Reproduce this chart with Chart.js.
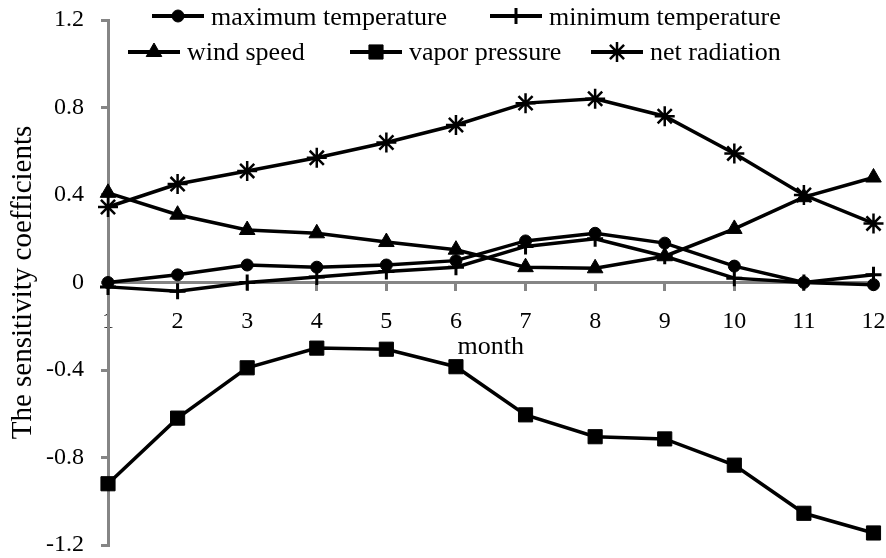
<!DOCTYPE html>
<html>
<head>
<meta charset="utf-8">
<script src="https://cdn.jsdelivr.net/npm/chart.js@4.4.1/dist/chart.umd.min.js"></script>
<style>
  html, body { margin: 0; padding: 0; background: #fff; }
</style>
</head>
<body>
<canvas id="chart" width="886" height="558"></canvas>
<script>
// valores
const months = ["1", "2", "3", "4", "5", "6", "7", "8", "9", "10", "11", "12"];
const maxTemp = [0, 0.035, 0.08, 0.07, 0.08, 0.10, 0.19, 0.225, 0.18, 0.075, 0, -0.01];
const minTemp = [-0.02, -0.04, 0, 0.025, 0.05, 0.07, 0.165, 0.20, 0.12, 0.02, 0, 0.035];
const windSpeed = [0.41, 0.31, 0.24, 0.225, 0.185, 0.15, 0.07, 0.065, 0.12, 0.245, 0.39, 0.48];
const vaporPressure = [-0.92, -0.62, -0.39, -0.30, -0.305, -0.385, -0.605, -0.705, -0.715, -0.835, -1.055, -1.145];
const netRadiation = [0.345, 0.45, 0.51, 0.57, 0.64, 0.72, 0.82, 0.84, 0.76, 0.59, 0.40, 0.27];
const yTicks = [-1.2, -0.8, -0.4, 0, 0.4, 0.8, 1.2];
const xTitle = "month";
const yTitle = "The sensitivity coefficients";

const FONT = "'Liberation Serif', 'Times New Roman', serif";
const AXIS = "#858585";

function series(label, data, pointStyle, radius, pointBorder) {
  return {
    label,
    data,
    borderColor: "#000",
    backgroundColor: "#000",
    borderWidth: 3.5,
    tension: 0,
    clip: false,
    pointStyle,
    pointRadius: radius,
    pointBorderWidth: pointBorder,
    pointBackgroundColor: "#000",
    pointBorderColor: "#000",
  };
}

// legenda em duas linhas, desenhada à mão
const legendSlots = [
  { x: 152, y: 16, ty: 18 },
  { x: 490, y: 16, ty: 18 },
  { x: 128, y: 52, ty: 53 },
  { x: 350, y: 52, ty: 53 },
  { x: 591, y: 52, ty: 53 },
];

const legendPlugin = {
  id: "customLegend",
  afterDraw(chart) {
    const ctx = chart.ctx;
    ctx.save();
    chart.data.datasets.forEach((ds, i) => {
      const s = legendSlots[i];
      ctx.strokeStyle = "#000";
      ctx.fillStyle = "#000";
      ctx.lineWidth = 4;
      ctx.beginPath();
      ctx.moveTo(s.x, s.y);
      ctx.lineTo(s.x + 52, s.y);
      ctx.stroke();
      ctx.lineWidth = ds.pointBorderWidth;
      Chart.helpers.drawPoint(ctx, {
        pointStyle: ds.pointStyle,
        radius: ds.pointRadius,
        borderWidth: ds.pointBorderWidth,
        rotation: 0,
      }, s.x + 26, s.y);
      ctx.font = "26px " + FONT;
      ctx.textAlign = "left";
      ctx.textBaseline = "middle";
      ctx.fillText(ds.label, s.x + 59, s.ty);
    });
    // título do eixo x
    const area = chart.chartArea;
    ctx.font = "26px " + FONT;
    ctx.textAlign = "center";
    ctx.textBaseline = "middle";
    ctx.fillText(xTitle, (area.left + area.right) / 2, 347);
    ctx.restore();
  },
};

new Chart(document.getElementById("chart"), {
  type: "line",
  data: {
    labels: months,
    datasets: [
      series("maximum temperature", maxTemp, "circle", 6, 1),
      series("minimum temperature", minTemp, "cross", 8, 3),
      series("wind speed", windSpeed, "triangle", 9, 1),
      series("vapor pressure", vaporPressure, "rect", 10, 1),
      series("net radiation", netRadiation, "star", 10, 2.5),
    ],
  },
  options: {
    responsive: false,
    animation: false,
    layout: { padding: { left: 0, right: 11, top: 20, bottom: 13 } },
    plugins: {
      legend: { display: false },
      tooltip: { enabled: false },
    },
    scales: {
      x: {
        type: "category",
        position: { y: 0 },
        offset: false,
        afterFit: (s) => {
          s.height = 0;
          s.paddingLeft = 0;
          s.paddingRight = 0;
        },
        grid: { drawOnChartArea: false, color: AXIS, lineWidth: 3, tickLength: 7 },
        border: { color: AXIS, width: 3 },
        ticks: {
          color: "#000",
          font: { family: FONT, size: 24 },
          padding: 18,
          maxRotation: 0,
          autoSkip: false,
        },
      },
      y: {
        min: -1.2,
        max: 1.2,
        afterBuildTicks: (s) => { s.ticks = yTicks.map((v) => ({ value: v })); },
        afterFit: (s) => {
          s.width = 108;
          s.paddingTop = 0;
          s.paddingBottom = 0;
        },
        grid: { drawOnChartArea: false, color: AXIS, lineWidth: 3, tickLength: 7 },
        border: { color: AXIS, width: 3 },
        ticks: {
          color: "#000",
          font: { family: FONT, size: 24 },
          padding: 17,
          callback: (v) => String(v),
        },
        title: {
          display: true,
          text: yTitle,
          color: "#000",
          font: { family: FONT, size: 29 },
          padding: { top: 6, bottom: 0 },
        },
      },
    },
  },
  plugins: [legendPlugin],
});
</script>
</body>
</html>
